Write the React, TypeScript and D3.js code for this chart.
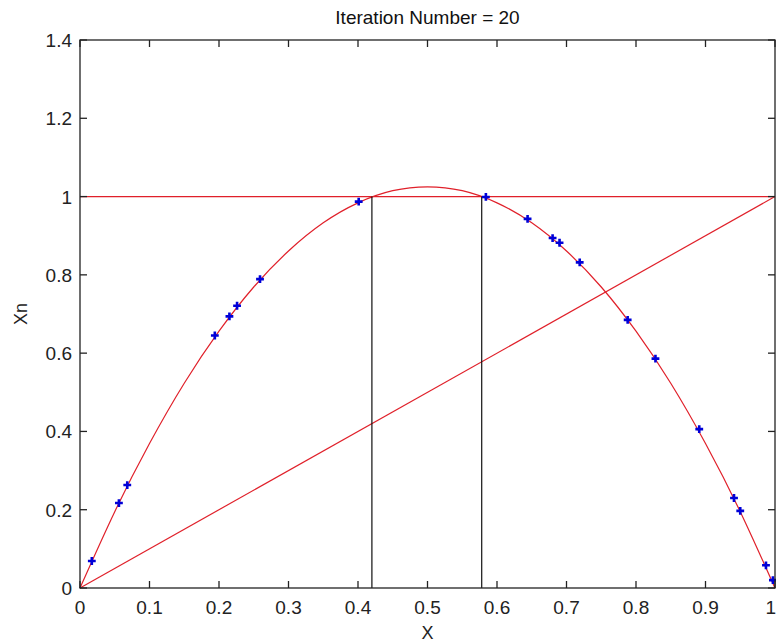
import * as d3 from 'd3'
import { useEffect, useRef } from 'react'

// values
const titleText = 'Iteration Number = 20'
const xTicks = [0, 0.1, 0.2, 0.3, 0.4, 0.5, 0.6, 0.7, 0.8, 0.9, 1]
const yTicks = [0, 0.2, 0.4, 0.6, 0.8, 1, 1.2, 1.4]

// the red parabola, read every 0.05
const curveX = [0, 0.05, 0.1, 0.15, 0.2, 0.25, 0.3, 0.35, 0.4, 0.45, 0.5, 0.55, 0.6, 0.65, 0.7, 0.75, 0.8, 0.85, 0.9, 0.95, 1]
const curveY = [0, 0.195, 0.369, 0.523, 0.656, 0.769, 0.861, 0.933, 0.984, 1.015, 1.025, 1.015, 0.984, 0.933, 0.861, 0.769, 0.656, 0.523, 0.369, 0.195, 0]

// iterates (blue markers)
const iterX = [0.017, 0.056, 0.068, 0.194, 0.215, 0.226, 0.259, 0.401, 0.584, 0.644, 0.68, 0.69, 0.719, 0.788, 0.828, 0.891, 0.941, 0.95, 0.987, 0.997]
const iterY = [0.069, 0.217, 0.263, 0.645, 0.694, 0.721, 0.789, 0.987, 0.999, 0.943, 0.894, 0.882, 0.832, 0.685, 0.586, 0.406, 0.23, 0.197, 0.058, 0.02]

// black verticals where the curve meets y = 1
const vertX = [0.42, 0.578]
const levelY = 1

const App = () => {
    const ref = useRef<SVGSVGElement>(null)

    useEffect(() => {
        const width = 776
        const height = 643
        const margin = { top: 40, right: 1, bottom: 55, left: 80 }
        const w = width - margin.left - margin.right
        const h = height - margin.top - margin.bottom

        const svg = d3.select(ref.current)
        svg.selectAll('*').remove()

        const font = '"Liberation Sans", Arial, sans-serif'
        const axisColor = '#222'
        const red = '#e0202a'

        const x = d3.scaleLinear().domain([0, 1]).range([0, w])
        const y = d3.scaleLinear().domain([0, 1.4]).range([h, 0])

        const g = svg.append('g').attr('transform', `translate(${margin.left},${margin.top})`)

        // title
        svg.append('text')
            .attr('x', margin.left + w / 2)
            .attr('y', 24)
            .attr('text-anchor', 'middle')
            .style('font-family', font)
            .style('font-size', '19px')
            .attr('fill', '#111')
            .text(titleText)

        // y = x diagonal
        const line = d3.line<[number, number]>().x(d => x(d[0])).y(d => y(d[1]))
        g.append('path')
            .datum([[0, 0], [1, 1]] as [number, number][])
            .attr('fill', 'none')
            .attr('stroke', red)
            .attr('stroke-width', 1.2)
            .attr('d', line)

        // horizontal level y = 1
        g.append('line')
            .attr('x1', x(0)).attr('x2', x(1))
            .attr('y1', y(levelY)).attr('y2', y(levelY))
            .attr('stroke', red)
            .attr('stroke-width', 1.2)

        // parabola
        const curvePts = curveX.map((v, i) => [v, curveY[i]] as [number, number])
        g.append('path')
            .datum(curvePts)
            .attr('fill', 'none')
            .attr('stroke', red)
            .attr('stroke-width', 1.2)
            .attr('d', line.curve(d3.curveNatural))

        // black verticals
        g.selectAll('.vert')
            .data(vertX)
            .enter()
            .append('line')
            .attr('class', 'vert')
            .attr('x1', d => x(d)).attr('x2', d => x(d))
            .attr('y1', y(0)).attr('y2', y(levelY))
            .attr('stroke', '#111')
            .attr('stroke-width', 1.2)

        // iterates
        const symbol = d3.symbol().type(d3.symbolCross).size(34)
        g.selectAll('.pt')
            .data(iterX.map((v, i) => [v, iterY[i]]))
            .enter()
            .append('path')
            .attr('class', 'pt')
            .attr('transform', d => `translate(${x(d[0])},${y(d[1])})`)
            .attr('d', symbol)
            .attr('fill', '#0000d8')

        // box + inward ticks
        g.append('rect')
            .attr('x', 0).attr('y', 0)
            .attr('width', w).attr('height', h)
            .attr('fill', 'none')
            .attr('stroke', axisColor)
            .attr('stroke-width', 1.3)

        const tl = 7
        xTicks.forEach((t, i) => {
            const last = i === xTicks.length - 1
            g.append('line').attr('x1', x(t)).attr('x2', x(t)).attr('y1', h).attr('y2', h - tl).attr('stroke', axisColor).attr('stroke-width', 1.3)
            g.append('line').attr('x1', x(t)).attr('x2', x(t)).attr('y1', 0).attr('y2', tl).attr('stroke', axisColor).attr('stroke-width', 1.3)
            g.append('text')
                .attr('x', last ? x(t) + 1 : x(t))
                .attr('y', h + 26)
                .attr('text-anchor', last ? 'end' : 'middle')
                .style('font-family', font)
                .style('font-size', '19px')
                .attr('fill', '#222')
                .text(d3.format('')(t))
        })
        yTicks.forEach(t => {
            g.append('line').attr('x1', 0).attr('x2', tl).attr('y1', y(t)).attr('y2', y(t)).attr('stroke', axisColor).attr('stroke-width', 1.3)
            g.append('line').attr('x1', w).attr('x2', w - tl).attr('y1', y(t)).attr('y2', y(t)).attr('stroke', axisColor).attr('stroke-width', 1.3)
            g.append('text')
                .attr('x', -8)
                .attr('y', y(t) + 7)
                .attr('text-anchor', 'end')
                .style('font-family', font)
                .style('font-size', '19px')
                .attr('fill', '#222')
                .text(d3.format('')(t))
        })

        // axis labels
        svg.append('text')
            .attr('x', margin.left + w / 2)
            .attr('y', 639)
            .attr('text-anchor', 'middle')
            .style('font-family', font)
            .style('font-size', '18px')
            .attr('fill', '#222')
            .text('X')

        svg.append('text')
            .attr('transform', `translate(27,${margin.top + h / 2}) rotate(-90)`)
            .attr('text-anchor', 'middle')
            .style('font-family', font)
            .style('font-size', '18px')
            .attr('fill', '#222')
            .text('Xn')
    }, [])

    return (
        <svg
            ref={ref}
            width={776}
            height={643}
            style={{ position: 'absolute', left: 0, top: 0, background: '#fff' }}
        />
    )
}

export default App
